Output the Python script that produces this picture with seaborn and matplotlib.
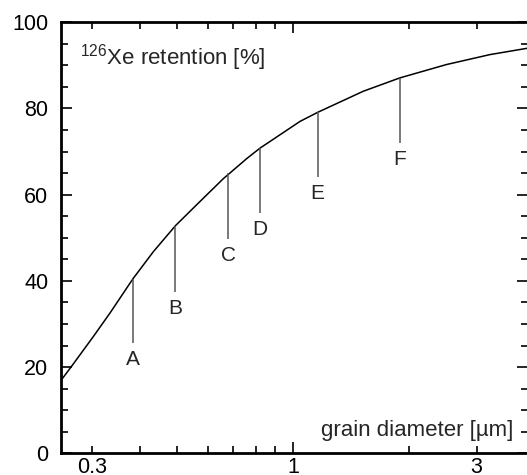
import numpy as np
import pandas as pd
import matplotlib
matplotlib.use('Agg')
import matplotlib.pyplot as plt
import seaborn as sns
from matplotlib.ticker import FixedLocator, FixedFormatter, MultipleLocator

# curve
diameter = [0.2496, 0.266, 0.303, 0.335, 0.384, 0.434, 0.495, 0.573, 0.659,
            0.759, 0.821, 1.043, 1.159, 1.523, 1.896, 2.507, 3.249, 4.08]
retention = [16.9, 20.2, 27.1, 32.6, 40.5, 46.8, 52.8, 58.4, 63.7,
             68.4, 70.8, 77.0, 79.1, 84.0, 87.1, 90.2, 92.5, 94.0]

# labelled samples
sample_names = ['A', 'B', 'C', 'D', 'E', 'F']
sample_x = [0.3835, 0.4945, 0.679, 0.821, 1.159, 1.896]
sample_top = [40.4, 52.8, 65.0, 70.8, 79.1, 87.1]
sample_bottom = [25.6, 37.5, 49.7, 55.7, 64.1, 72.0]

major_x = [1]
major_x_labels = ['1']
minor_x = [0.3, 0.4, 0.5, 0.6, 0.7, 0.8, 0.9, 2, 3]
minor_x_labels = ['0.3', '', '', '', '', '', '', '', '3']

sns.set_style('ticks')
plt.rcParams['font.family'] = ['Liberation Sans', 'DejaVu Sans']
plt.rcParams['mathtext.fontset'] = 'custom'
plt.rcParams['mathtext.rm'] = 'Liberation Sans'

fig = plt.figure(figsize=(5.27, 4.75), dpi=100)
ax = fig.add_axes([0.1157, 0.0457, 0.8862, 0.9074])

df = pd.DataFrame({'d': diameter, 'r': retention})
sns.lineplot(data=df, x='d', y='r', ax=ax, color='black', lw=1.1,
             sort=False, estimator=None)

ax.vlines(sample_x, sample_bottom, sample_top, color='#555555', lw=1.1)
for name, x, b in zip(sample_names, sample_x, sample_bottom):
    ax.text(x, b - 3.8, name, ha='center', va='center', fontsize=15)

ax.set_xscale('log')
ax.set_xlim(0.2496, 4.08)
ax.set_ylim(0, 100)

ax.xaxis.set_major_locator(FixedLocator(major_x))
ax.xaxis.set_major_formatter(FixedFormatter(major_x_labels))
ax.xaxis.set_minor_locator(FixedLocator(minor_x))
ax.xaxis.set_minor_formatter(FixedFormatter(minor_x_labels))
ax.yaxis.set_major_locator(MultipleLocator(20))
ax.yaxis.set_minor_locator(MultipleLocator(5))

ax.tick_params(axis='both', which='both', direction='in', top=True, right=True,
               labelsize=15.5, colors='black', width=1.2)
ax.tick_params(axis='both', which='major', length=8)
ax.tick_params(axis='both', which='minor', length=5)
ax.tick_params(axis='x', which='both', pad=3)
ax.tick_params(axis='y', which='both', pad=9)

for s in ax.spines.values():
    s.set_linewidth(2.0)
    s.set_color('black')

ax.set_xlabel('')
ax.set_ylabel('')
ax.text(0.0407, 0.903, r'$^{126}$Xe retention [%]', transform=ax.transAxes,
        fontsize=16, ha='left', va='baseline')
ax.text(0.968, 0.040, 'grain diameter [µm]', transform=ax.transAxes,
        fontsize=16, ha='right', va='baseline')

fig.savefig('out.png', dpi=100)
